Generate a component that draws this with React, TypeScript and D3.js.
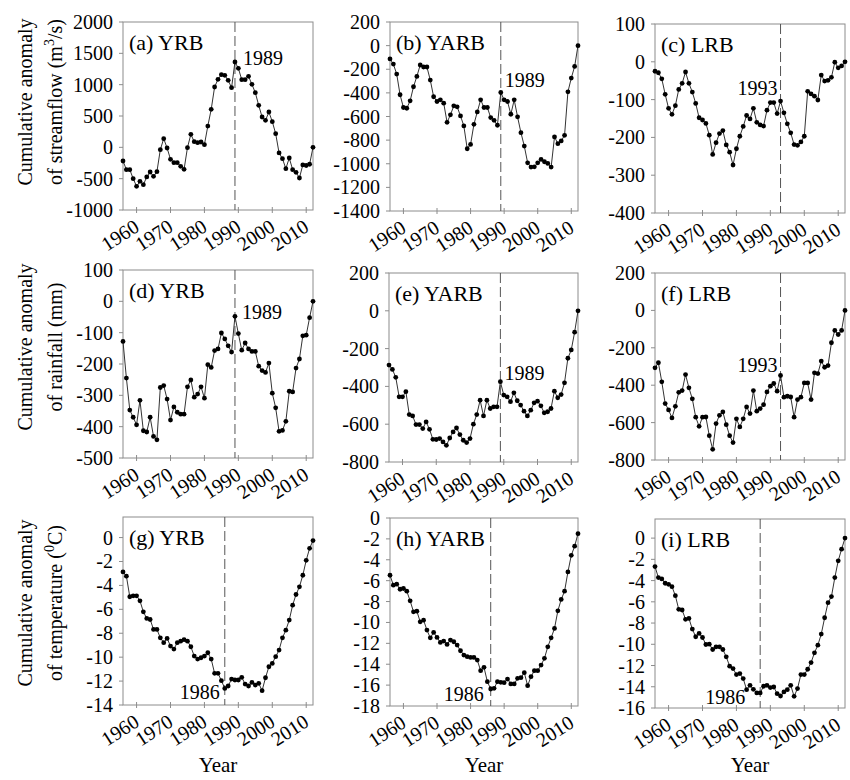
import React, { useEffect, useRef } from 'react';
import * as d3 from 'd3';

const FIRST_YEAR = 1956;
const LAST_YEAR = 2012;
const years = d3.range(FIRST_YEAR, LAST_YEAR + 1);
const xTicks = [1960, 1970, 1980, 1990, 2000, 2010];

// cumulative anomaly of streamflow (m3/s)
const flowYRB = [-218, -356, -356, -500, -622, -543, -596, -473, -394, -463, -388, -37, 138, -11, -191, -245, -245, -303, -351, -5, 207, 90, 74, 85, 43, 340, 606, 963, 1085, 1160, 1149, 1069, 952, 1362, 1261, 1080, 1080, 1133, 1005, 872, 670, 484, 431, 564, 410, 218, -90, -181, -340, -170, -356, -399, -489, -280, -290, -270, 0];
const flowYARB = [-113, -156, -241, -416, -524, -530, -467, -348, -261, -164, -181, -181, -292, -433, -473, -459, -487, -649, -586, -510, -518, -595, -680, -873, -836, -666, -561, -459, -524, -524, -609, -632, -674, -397, -459, -473, -581, -459, -603, -737, -850, -992, -1028, -1026, -992, -963, -983, -997, -1028, -773, -830, -807, -759, -391, -275, -176, 0];
const flowLRB = [-25, -29, -45, -86, -123, -139, -116, -73, -57, -27, -57, -80, -110, -148, -154, -163, -194, -245, -214, -190, -182, -220, -239, -273, -230, -197, -171, -142, -151, -123, -160, -167, -170, -128, -108, -108, -137, -104, -135, -164, -188, -219, -221, -212, -197, -78, -85, -91, -101, -35, -51, -49, -41, -1, -16, -11, 0];

// cumulative anomaly of rainfall (mm)
const rainYRB = [-128, -245, -347, -370, -394, -316, -413, -417, -370, -431, -442, -275, -269, -312, -379, -337, -354, -360, -360, -273, -251, -306, -296, -273, -309, -202, -211, -157, -152, -101, -120, -142, -162, -48, -103, -156, -133, -152, -160, -160, -207, -221, -227, -197, -293, -340, -415, -412, -383, -287, -289, -213, -184, -110, -108, -52, 0];
const rainYARB = [-287, -310, -352, -455, -455, -428, -549, -556, -602, -602, -623, -588, -627, -680, -681, -676, -694, -712, -673, -641, -620, -655, -685, -697, -676, -600, -549, -473, -556, -473, -517, -508, -508, -375, -446, -455, -481, -434, -476, -499, -531, -556, -526, -487, -478, -503, -540, -534, -517, -425, -460, -443, -381, -251, -207, -113, 0];
const rainLRB = [-307, -280, -382, -498, -532, -575, -513, -438, -429, -343, -414, -473, -571, -620, -571, -570, -670, -743, -605, -561, -543, -611, -670, -707, -580, -623, -580, -516, -552, -429, -539, -525, -504, -436, -405, -391, -432, -348, -464, -459, -463, -571, -477, -464, -388, -388, -477, -334, -338, -271, -304, -295, -173, -107, -129, -107, 0];

// cumulative anomaly of temperature (oC)
const tempYRB = [-2.87, -3.23, -4.95, -4.87, -4.87, -5.29, -6.21, -6.76, -6.85, -7.68, -7.68, -8.38, -8.79, -8.43, -9.07, -9.32, -8.79, -8.66, -8.54, -8.66, -9.13, -9.91, -10.16, -10.05, -9.91, -9.63, -10.16, -11.35, -11.35, -11.97, -12.61, -12.41, -11.83, -11.91, -11.91, -11.69, -12.25, -12.41, -12.11, -12.33, -12.19, -12.8, -11.72, -10.8, -10.52, -9.96, -9.41, -8.38, -7.74, -6.9, -5.65, -4.76, -4.12, -3.15, -1.9, -0.9, -0.25];
const tempYARB = [-5.48, -6.43, -6.34, -6.82, -6.75, -7.01, -7.93, -8.98, -8.92, -9.94, -9.78, -10.73, -11.47, -10.96, -11.43, -11.91, -11.78, -12.1, -11.69, -11.85, -12.17, -12.71, -13.12, -13.28, -13.35, -13.35, -13.6, -14.62, -14.3, -15.67, -16.37, -16.31, -15.67, -15.73, -15.77, -15.42, -15.89, -15.89, -15.35, -15.29, -14.81, -16.05, -15.19, -14.62, -14.62, -14.08, -13.44, -12.33, -11.47, -10.57, -8.89, -7.8, -7.01, -5.16, -3.57, -2.7, -1.5];
const tempLRB = [-2.68, -3.72, -3.84, -4.25, -4.35, -4.57, -5.42, -6.71, -6.77, -7.65, -7.56, -8.57, -9.29, -8.98, -9.36, -10.02, -9.99, -10.49, -10.24, -10.24, -10.49, -11.18, -12.06, -12.29, -12.85, -12.76, -13.23, -14.27, -13.86, -14.24, -14.58, -14.58, -13.95, -13.86, -14.08, -14.02, -14.65, -14.87, -14.49, -14.27, -13.86, -14.9, -14.17, -12.85, -12.85, -12.35, -11.72, -10.8, -10.08, -9.04, -7.5, -6.08, -5.51, -3.72, -2.14, -1.04, 0];

const panels = [
  { title: '(a) YRB', data: flowYRB, domain: [-1000, 2000], tickMax: 2000, step: 500, event: 1989, label: '1989', labelValue: 1314, dx: 8, anchor: 'start' },
  { title: '(b) YARB', data: flowYARB, domain: [-1400, 200], tickMax: 200, step: 200, event: 1989, label: '1989', labelValue: -350, dx: 4, anchor: 'start' },
  { title: '(c) LRB', data: flowLRB, domain: [-400, 100], tickMax: 100, step: 100, event: 1993, label: '1993', labelValue: -88, dx: -3, anchor: 'end' },
  { title: '(d) YRB', data: rainYRB, domain: [-500, 100], tickMax: 100, step: 100, event: 1989, label: '1989', labelValue: -56, dx: 7, anchor: 'start' },
  { title: '(e) YARB', data: rainYARB, domain: [-800, 200], tickMax: 200, step: 200, event: 1989, label: '1989', labelValue: -366, dx: 4, anchor: 'start' },
  { title: '(f) LRB', data: rainLRB, domain: [-800, 200], tickMax: 200, step: 200, event: 1993, label: '1993', labelValue: -329, dx: -3, anchor: 'end' },
  { title: '(g) YRB', data: tempYRB, domain: [-14, 1.72], tickMax: 0, step: 2, event: 1986, label: '1986', labelValue: -13.5, dx: -5, anchor: 'end' },
  { title: '(h) YARB', data: tempYARB, domain: [-18, 0], tickMax: 0, step: 2, event: 1986, label: '1986', labelValue: -17.5, dx: -7, anchor: 'end' },
  { title: '(i) LRB', data: tempLRB, domain: [-16, 1.8], tickMax: 0, step: 2, event: 1987, label: '1986', labelValue: -15.65, dx: -15, anchor: 'end' },
];

// pixel boxes of the nine plot areas
const frames = [
  { left: 123, right: 313, top: 22, bottom: 210 },
  { left: 390, right: 578, top: 22, bottom: 211 },
  { left: 655, right: 845, top: 24, bottom: 213 },
  { left: 123, right: 313, top: 270, bottom: 458 },
  { left: 389, right: 578, top: 273, bottom: 462 },
  { left: 655, right: 845, top: 273, bottom: 460 },
  { left: 123, right: 313, top: 517, bottom: 705 },
  { left: 390, right: 578, top: 518, bottom: 706 },
  { left: 655, right: 845, top: 519, bottom: 708 },
];

const rowTitles = [
  { center: 102, second: ['of streamflow (m', '3', '/s)'] },
  { center: 347, second: ['of rainfall (mm)', '', ''] },
  { center: 603, second: ['of temperature (', '0', 'C)'] },
];

const FONT = '"Times New Roman", "Liberation Serif", serif';

const App = () => {
  const svgRef = useRef(null);

  useEffect(() => {
    const svg = d3.select(svgRef.current);
    svg.selectAll('*').remove();

    svg.append('rect').attr('width', 850).attr('height', 780).attr('fill', '#fff');

    panels.forEach((p, i) => {
      const f = frames[i];
      const x = d3.scaleLinear().domain([FIRST_YEAR, LAST_YEAR]).range([f.left, f.right]);
      const y = d3.scaleLinear().domain(p.domain).range([f.bottom, f.top]);
      const g = svg.append('g');

      // frame
      g.append('rect')
        .attr('x', f.left).attr('y', f.top)
        .attr('width', f.right - f.left).attr('height', f.bottom - f.top)
        .attr('fill', 'none').attr('stroke', '#8c8c8c').attr('stroke-width', 1);

      // y ticks
      const yt = d3.range(p.domain[0], p.tickMax + p.step / 2, p.step);
      yt.forEach(v => {
        g.append('line')
          .attr('x1', f.left - 4).attr('x2', f.left)
          .attr('y1', y(v)).attr('y2', y(v))
          .attr('stroke', '#8c8c8c');
        g.append('text')
          .attr('x', f.left - 10).attr('y', y(v)).attr('dy', '0.35em')
          .attr('text-anchor', 'end')
          .attr('font-family', FONT).attr('font-size', 20)
          .text(String(v));
      });

      // x ticks
      xTicks.forEach(t => {
        g.append('line')
          .attr('x1', x(t)).attr('x2', x(t))
          .attr('y1', f.bottom - 3).attr('y2', f.bottom + 3)
          .attr('stroke', '#8c8c8c');
        g.append('text')
          .attr('transform', `translate(${x(t) + 4},${f.bottom + 20}) rotate(-33)`)
          .attr('text-anchor', 'end')
          .attr('font-family', FONT).attr('font-size', 20)
          .text(t);
      });

      // change point
      g.append('line')
        .attr('x1', x(p.event)).attr('x2', x(p.event))
        .attr('y1', f.top).attr('y2', f.bottom)
        .attr('stroke', '#555').attr('stroke-width', 1)
        .attr('stroke-dasharray', '10,4');

      // series
      const line = d3.line()
        .x((d, k) => x(years[k]))
        .y(d => y(d));
      g.append('path')
        .attr('d', line(p.data))
        .attr('fill', 'none').attr('stroke', '#333').attr('stroke-width', 1);
      g.selectAll('.pt')
        .data(p.data)
        .enter()
        .append('circle')
        .attr('cx', (d, k) => x(years[k]))
        .attr('cy', d => y(d))
        .attr('r', 2.4)
        .attr('fill', '#000');

      // title and change-year label
      g.append('text')
        .attr('x', f.left + 6).attr('y', f.top + 28)
        .attr('font-family', FONT).attr('font-size', 22)
        .text(p.title);
      g.append('text')
        .attr('x', x(p.event) + p.dx).attr('y', y(p.labelValue))
        .attr('text-anchor', p.anchor)
        .attr('font-family', FONT).attr('font-size', 20)
        .text(p.label);

      if (i >= 6) {
        g.append('text')
          .attr('x', (f.left + f.right) / 2).attr('y', 772)
          .attr('text-anchor', 'middle')
          .attr('font-family', FONT).attr('font-size', 21)
          .text('Year');
      }
    });

    // row axis titles
    rowTitles.forEach(r => {
      svg.append('text')
        .attr('transform', `translate(32,${r.center}) rotate(-90)`)
        .attr('text-anchor', 'middle')
        .attr('font-family', FONT).attr('font-size', 20)
        .text('Cumulative anomaly');
      const t = svg.append('text')
        .attr('transform', `translate(62,${r.center}) rotate(-90)`)
        .attr('text-anchor', 'middle')
        .attr('font-family', FONT).attr('font-size', 20);
      t.append('tspan').text(r.second[0]);
      if (r.second[1]) {
        t.append('tspan').attr('dy', -8).attr('font-size', 14).text(r.second[1]);
        t.append('tspan').attr('dy', 8).text(r.second[2]);
      }
    });
  }, []);

  return (
    <svg
      ref={svgRef}
      width={850}
      height={780}
      style={{ position: 'absolute', left: 0, top: 0, display: 'block' }}
    />
  );
};

export default App;
